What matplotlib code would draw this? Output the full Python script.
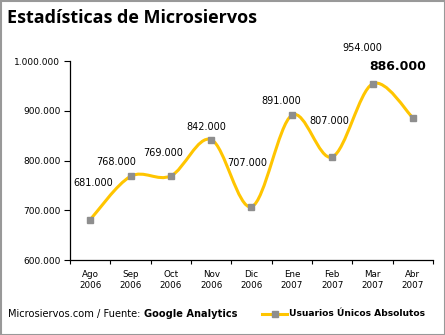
"""Estadísticas de Microsiervos - monthly unique visitors."""

import matplotlib

matplotlib.use("Agg")

import matplotlib.pyplot as plt
from matplotlib.patches import Rectangle, PathPatch
from matplotlib.path import Path
from matplotlib.lines import Line2D
from matplotlib.ticker import FuncFormatter, FixedLocator

months = ["Ago\n2006", "Sep\n2006", "Oct\n2006", "Nov\n2006", "Dic\n2006",
          "Ene\n2007", "Feb\n2007", "Mar\n2007", "Abr\n2007"]
users = [681000, 768000, 769000, 842000, 707000, 891000, 807000, 954000, 886000]
# label offsets (pixels) relative to each point, as placed in the original
label_dx = [3, -14, -8, -5, -4, -11, -3, -10, -15]
label_dy = [37, 14, 23, 13, 44, 14, 36, 36, 51]

LINE = "#FFC500"
MARK = "#8E8E8E"

fig = plt.figure(figsize=(4.45, 3.35), dpi=100)
ax = fig.add_axes([70 / 445, 75 / 335, 363 / 445, 199 / 335])

x = list(range(len(users)))

# smooth line (Catmull-Rom as cubic Bezier segments), Excel style
verts = [(x[0], users[0])]
codes = [Path.MOVETO]
n = len(users)
for i in range(n - 1):
    p0 = (x[max(i - 1, 0)], users[max(i - 1, 0)])
    p1 = (x[i], users[i])
    p2 = (x[i + 1], users[i + 1])
    p3 = (x[min(i + 2, n - 1)], users[min(i + 2, n - 1)])
    c1 = (p1[0] + (p2[0] - p0[0]) / 6, p1[1] + (p2[1] - p0[1]) / 6)
    c2 = (p2[0] - (p3[0] - p1[0]) / 6, p2[1] - (p3[1] - p1[1]) / 6)
    verts += [c1, c2, p2]
    codes += [Path.CURVE4] * 3
ax.add_patch(PathPatch(Path(verts, codes), facecolor="none", edgecolor=LINE,
                       lw=2.2, capstyle="round", joinstyle="round", zorder=2))
ax.plot(x, users, ls="none", marker="s", ms=5, color=MARK, zorder=3)

for i, v in enumerate(users):
    last = i == n - 1
    ax.annotate(f"{v:,}".replace(",", "."), (x[i], v),
                xytext=(label_dx[i], label_dy[i]), textcoords="offset pixels",
                ha="center", va="center",
                fontsize=9 if last else 7, fontweight="bold" if last else "normal",
                color="black", zorder=4)

ax.set_xlim(-0.5, n - 0.5)
ax.set_ylim(600000, 1000000)
ax.set_yticks(range(600000, 1000001, 100000))
ax.yaxis.set_major_formatter(FuncFormatter(lambda v, p: f"{int(v):,}".replace(",", ".")))
ax.set_xticks(x)
ax.set_xticklabels(months, fontsize=6.3, linespacing=1.3)
ax.xaxis.set_minor_locator(FixedLocator([i - 0.5 for i in range(n + 1)]))
ax.tick_params(axis="x", which="major", length=0, pad=7)
ax.tick_params(axis="x", which="minor", length=3, width=0.8, direction="out")
ax.tick_params(axis="y", labelsize=6.5, length=4, width=0.8, pad=3)
for s in ("top", "right"):
    ax.spines[s].set_visible(False)
for s in ("left", "bottom"):
    ax.spines[s].set_linewidth(0.9)

fig.text(7 / 445, 1 - 18 / 335, "Estadísticas de Microsiervos", fontsize=13,
         family="Open Sans", fontweight="bold", va="center", ha="left")

# footer
fy = 1 - 314 / 335
t1 = fig.text(8 / 445, fy, "Microsiervos.com / Fuente: ", fontsize=7.1, va="center")
fig.canvas.draw()
bb = t1.get_window_extent()
fig.text(bb.x1 / 445, fy, "Google Analytics", fontsize=7.1, fontweight="bold", va="center")

fig.add_artist(Line2D([262 / 445, 287 / 445], [fy, fy], color=LINE, lw=2.2,
                      transform=fig.transFigure))
fig.add_artist(Line2D([274.5 / 445], [fy], marker="s", ms=5, color=MARK,
                      transform=fig.transFigure))
fig.text(289 / 445, fy, "Usuarios Únicos Absolutos", fontsize=6.6,
         fontweight="bold", va="center")

fig.add_artist(Rectangle((0.5 / 445, 0.5 / 335), 444 / 445, 334 / 335, fill=False,
                         edgecolor="#999999", lw=1.5, transform=fig.transFigure))

fig.savefig("out.png", dpi=100)
